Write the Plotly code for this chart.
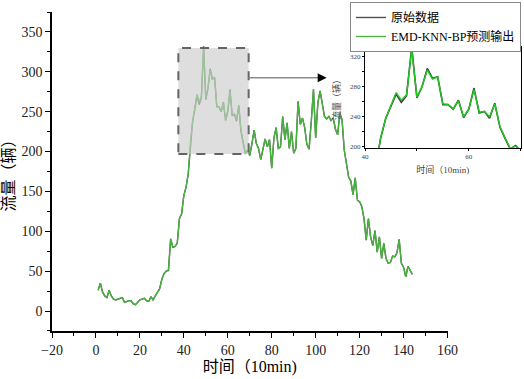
import plotly.graph_objects as go

time_idx = list(range(1, 145))

pred = [26, 35, 24, 19, 17, 26, 19, 15, 14, 15,
        16, 17, 11, 12, 13, 13, 9, 8, 11, 14,
        15, 16, 13, 12, 18, 14, 19, 24, 28, 40,
        47, 50, 52, 91, 80, 81, 85, 116, 122, 145,
        155, 172, 212, 238, 254, 272, 262, 269, 329, 266,
        280, 302, 290, 293, 257, 256, 250, 261, 240, 250,
        276, 246, 247, 240, 257, 227, 212, 198, 201, 196,
        210, 227, 210, 204, 190, 205, 216, 206, 215, 179,
        217, 230, 204, 206, 244, 215, 236, 204, 225, 198,
        204, 263, 234, 242, 230, 209, 203, 238, 278, 217,
        261, 276, 261, 244, 241, 244, 239, 242, 228, 221,
        248, 240, 202, 185, 168, 163, 146, 167, 139, 137,
        131, 116, 89, 116, 93, 82, 101, 74, 93, 66,
        85, 66, 60, 61, 69, 68, 73, 90, 60, 55,
        43, 56, 51, 46]

orig = [26, 35, 24, 19, 17, 26, 19, 15, 14, 15,
        16, 17, 11, 12, 13, 13, 9, 8, 11, 14,
        15, 16, 13, 12, 18, 14, 19, 24, 28, 40,
        47, 50, 51, 90, 80, 81, 85, 116, 122, 145,
        155, 172, 211, 238, 253, 270, 259, 268, 332, 265,
        280, 304, 291, 293, 256, 256, 250, 262, 239, 250,
        278, 245, 247, 238, 258, 226, 211, 197, 202, 195,
        210, 227, 210, 204, 190, 205, 216, 206, 215, 179,
        217, 230, 204, 206, 244, 215, 236, 204, 225, 198,
        204, 263, 234, 242, 230, 209, 203, 238, 278, 217,
        261, 276, 261, 244, 241, 244, 239, 242, 228, 221,
        248, 240, 202, 185, 168, 163, 146, 167, 139, 137,
        131, 116, 89, 116, 93, 82, 101, 74, 93, 66,
        85, 66, 60, 61, 69, 68, 73, 90, 60, 55,
        43, 56, 51, 46]

names = ["原始数据", "EMD-KNN-BP预测输出"]
x_title = "时间（10min)"
y_title = "流量（辆）"

zoom_box_x = [37.5, 69.5]
zoom_box_y = [197, 330]
arrow_y = 292.6
arrow_end_x = 105

FONT = "Liberation Serif, 'Noto Sans CJK SC', serif"

fig = go.Figure()
fig.add_trace(go.Scatter(x=time_idx, y=orig, mode="lines", name=names[0],
                         line=dict(color="rgb(80,80,80)", width=1.4)))
fig.add_trace(go.Scatter(x=time_idx, y=pred, mode="lines", name=names[1],
                         line=dict(color="rgb(70,180,60)", width=1.3)))
# inset
fig.add_trace(go.Scatter(x=time_idx, y=orig, mode="lines", showlegend=False,
                         xaxis="x2", yaxis="y2",
                         line=dict(color="rgb(60,60,60)", width=1.6)))
fig.add_trace(go.Scatter(x=time_idx, y=pred, mode="lines", showlegend=False,
                         xaxis="x2", yaxis="y2",
                         line=dict(color="rgb(30,200,30)", width=1.4)))

axis_common = dict(showline=True, linecolor="black", showgrid=False, zeroline=False,
                   ticks="outside", tickcolor="black", automargin=False)

fig.update_layout(
    width=524, height=379,
    margin=dict(l=52, r=3, t=0, b=48),
    paper_bgcolor="white", plot_bgcolor="white",
    font=dict(family=FONT, color="black"),
    xaxis=dict(domain=[0, 0.8433], range=[-20, 160], dtick=20, tick0=0,
               linewidth=1.5, ticklen=5, tickwidth=1.3,
               minor=dict(dtick=10, ticklen=3, tickcolor="black", ticks="outside"),
               tickfont=dict(size=14, color="#222"),
               title=dict(text=x_title, font=dict(size=16), standoff=4),
               anchor="y", **axis_common),
    yaxis=dict(domain=[0, 0.9637], range=[-25, 375], dtick=50, tick0=0,
               linewidth=1.5, ticklen=5, tickwidth=1.3,
               minor=dict(dtick=25, ticklen=3, tickcolor="black", ticks="outside"),
               tickfont=dict(size=14, color="#222"),
               title=dict(text=y_title, font=dict(size=16), standoff=4),
               anchor="x", **axis_common),
    xaxis2=dict(domain=[0.6674, 0.9994], range=[40, 70], tickvals=[40, 60],
                linewidth=1, ticklen=2, tickwidth=1, mirror=True,
                minor=dict(tickvals=[50, 70], ticklen=2, tickcolor="black", ticks="outside"),
                tickfont=dict(size=7, color="#444"),
                title=dict(text=x_title, font=dict(size=9, color="#444"), standoff=6),
                anchor="y2", **axis_common),
    yaxis2=dict(domain=[0.5538, 0.8571], range=[199, 332], tickvals=[200, 240, 280, 320],
                linewidth=1, ticklen=2, tickwidth=1, mirror=True,
                minor=dict(tickvals=[220, 260, 300], ticklen=2, tickcolor="black", ticks="outside"),
                tickfont=dict(size=7, color="#444"),
                title=dict(text=y_title, font=dict(size=9, color="#444"), standoff=7),
                anchor="x2", **axis_common),
    legend=dict(x=1, y=0.994, xanchor="right", yanchor="top",
                bgcolor="white", bordercolor="#888", borderwidth=1,
                font=dict(size=12, family=FONT), tracegroupgap=0,
                itemwidth=30),
    showlegend=True,
)

fig.add_shape(type="rect", xref="x", yref="y",
              x0=zoom_box_x[0], x1=zoom_box_x[1], y0=zoom_box_y[0], y1=zoom_box_y[1],
              line=dict(color="rgb(100,100,100)", width=2, dash="dash"),
              fillcolor="rgba(205,205,205,0.65)", layer="above")
fig.add_shape(type="line", xref="x", yref="y",
              x0=zoom_box_x[1], x1=arrow_end_x - 3, y0=arrow_y, y1=arrow_y,
              line=dict(color="rgb(140,140,140)", width=1.5))
fig.add_annotation(x=arrow_end_x, y=arrow_y, ax=arrow_end_x - 4, ay=arrow_y,
                   xref="x", yref="y", axref="x", ayref="y", text="",
                   showarrow=True, arrowhead=2, arrowsize=1.2, arrowwidth=1.5,
                   arrowcolor="black")

fig.write_html("out.html", config={"displayModeBar": False},
               post_script="document.body.style.margin='0';document.body.style.overflow='hidden';")
